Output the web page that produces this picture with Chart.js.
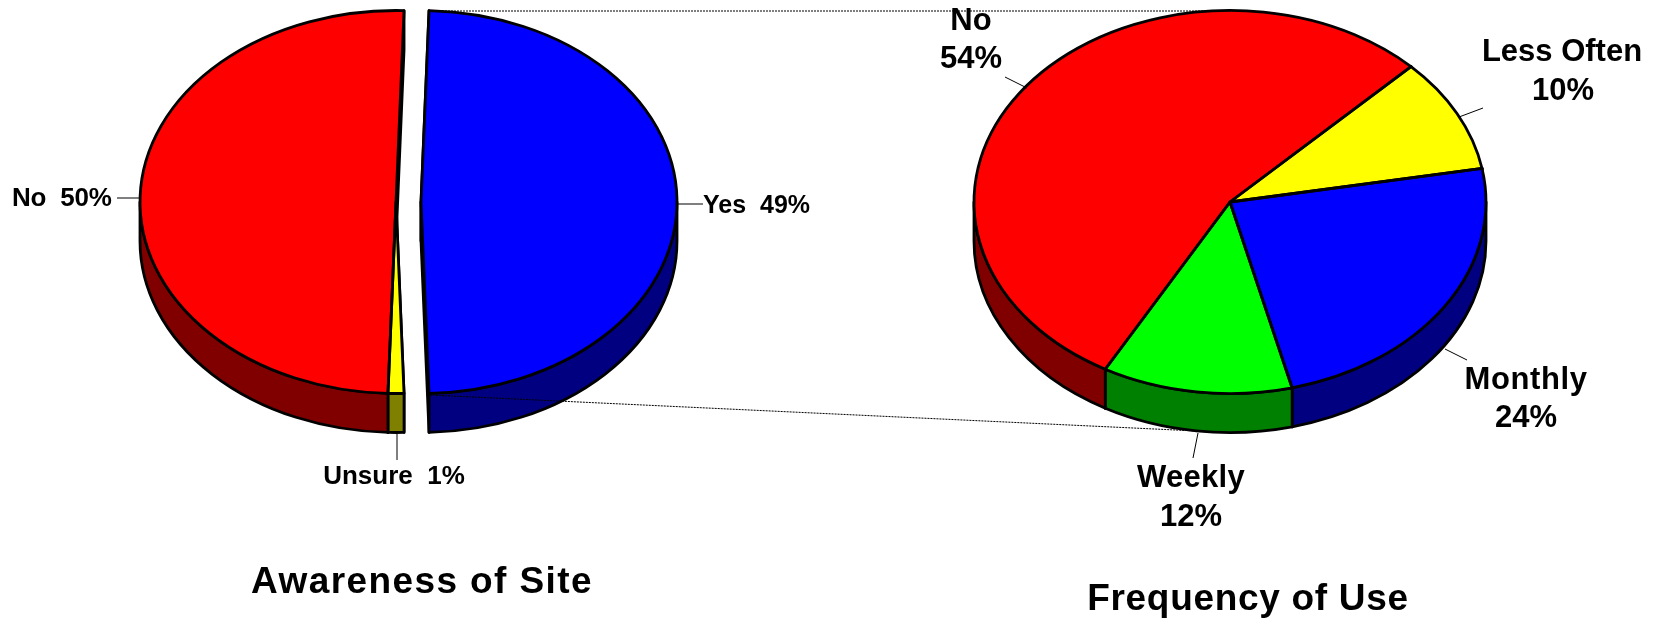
<!DOCTYPE html>
<html>
<head>
<meta charset="utf-8">
<style>
html,body{margin:0;padding:0;background:#fff;overflow:hidden;width:1661px;height:619px}
canvas{position:absolute;left:0;top:0}
</style>
<script src="https://cdn.jsdelivr.net/npm/chart.js@4/dist/chart.umd.min.js"></script>
</head>
<body>
<canvas id="left" width="1661" height="619"></canvas>
<canvas id="right" width="1661" height="619"></canvas>
<script>
const awarenessCategories = ['Yes', 'Unsure', 'No'];
const awarenessValues = [49, 1, 50];
const awarenessTops = ['#0000ff', '#ffff00', '#ff0000'];
const awarenessSides = ['#000080', '#808000', '#800000'];
const awarenessExplode = [25, 0, 0];

const frequencyCategories = ['Less Often', 'Monthly', 'Weekly', 'No'];
const frequencyValues = [9.7, 23.9, 12.0, 54.4];
const frequencyTops = ['#ffff00', '#0000ff', '#00ff00', '#ff0000'];
const frequencySides = ['#808000', '#000080', '#008000', '#800000'];
const frequencyExplode = [0, 0, 0, 0];

const FONT = '"Liberation Sans", Arial, sans-serif';
const W = 1661, H = 619;
const RADIUS = 256, SQUASH = 191.5 / 256, DEPTH = 39, CY = 202;

function text(ctx, str, x, y, size, spacing, align) {
  ctx.font = 'bold ' + size + 'px ' + FONT;
  ctx.letterSpacing = (spacing || 0) + 'px';
  ctx.textAlign = align || 'center';
  ctx.textBaseline = 'alphabetic';
  ctx.fillStyle = '#000';
  ctx.fillText(str, x, y);
  ctx.letterSpacing = '0px';
}
function seg(ctx, x1, y1, x2, y2, w) {
  ctx.beginPath(); ctx.moveTo(x1, y1); ctx.lineTo(x2, y2);
  ctx.lineWidth = w || 1; ctx.strokeStyle = '#000'; ctx.stroke();
}

const pie3d = {
  id: 'pie3d',
  afterDatasetUpdate(chart, args, opts) {
    chart.getDatasetMeta(args.index).data.forEach((el, i) => { el.x += opts.explode[i]; });
  },
  beforeDatasetsDraw(chart, args, opts) {
    const ctx = chart.ctx, arcs = chart.getDatasetMeta(0).data;
    ctx.lineJoin = 'round';
    ctx.lineWidth = 2.8; ctx.strokeStyle = '#000';
    const ell = (el, dy, a, b, ccw) => ctx.ellipse(el.x, el.y + dy, el.outerRadius, el.outerRadius * SQUASH, 0, a, b, ccw);
    const pt = (el, a) => [el.x + Math.cos(a) * el.outerRadius, el.y + Math.sin(a) * el.outerRadius * SQUASH];
    // radial cut faces
    arcs.forEach((el, i) => {
      ctx.fillStyle = opts.sides[i];
      [el.startAngle, el.endAngle].forEach(a => {
        const p = pt(el, a);
        ctx.beginPath();
        ctx.moveTo(el.x, el.y); ctx.lineTo(p[0], p[1]);
        ctx.lineTo(p[0], p[1] + DEPTH); ctx.lineTo(el.x, el.y + DEPTH);
        ctx.closePath(); ctx.fill(); ctx.stroke();
      });
    });
    // outer rim, front half only
    arcs.forEach((el, i) => {
      ctx.fillStyle = opts.sides[i];
      for (let k = -1; k <= 2; k++) {
        const a = Math.max(el.startAngle, 2 * Math.PI * k);
        const b = Math.min(el.endAngle, 2 * Math.PI * k + Math.PI);
        if (b <= a) continue;
        ctx.beginPath();
        ell(el, 0, a, b, false);
        ell(el, DEPTH, b, a, true);
        ctx.closePath(); ctx.fill(); ctx.stroke();
      }
    });
    ctx.save();
    const cy = arcs[0].y;
    ctx.translate(0, cy); ctx.scale(1, SQUASH); ctx.translate(0, -cy);
  },
  afterDatasetsDraw(chart, args, opts) {
    const ctx = chart.ctx, arcs = chart.getDatasetMeta(0).data;
    ctx.restore();
    ctx.lineJoin = 'round';
    ctx.lineWidth = 2.8; ctx.strokeStyle = '#000';
    arcs.forEach(el => {
      ctx.beginPath();
      ctx.moveTo(el.x, el.y);
      ctx.ellipse(el.x, el.y, el.outerRadius, el.outerRadius * SQUASH, 0, el.startAngle, el.endAngle);
      ctx.closePath(); ctx.stroke();
    });
    opts.annotate(ctx);
  }
};

function makePie(id, categories, values, tops, sides, explode, rotation, cx, annotate) {
  const pad = cx < W / 2 ? { right: W - 2 * cx } : { left: 2 * cx - W };
  pad.bottom = H - 2 * CY;
  return new Chart(document.getElementById(id), {
    type: 'pie',
    data: { labels: categories, datasets: [{ data: values, backgroundColor: tops, borderWidth: 0, radius: RADIUS, clip: false }] },
    options: {
      responsive: false, animation: false, rotation: rotation,
      layout: { padding: pad },
      events: [],
      plugins: { legend: { display: false }, tooltip: { enabled: false }, pie3d: { sides, explode, annotate } }
    },
    plugins: [pie3d]
  });
}

makePie('left', awarenessCategories, awarenessValues, awarenessTops, awarenessSides, awarenessExplode, 1.8, 396, ctx => {
  seg(ctx, 117, 198, 140, 198);
  seg(ctx, 678, 204, 703, 204);
  seg(ctx, 397, 434, 397, 460);
  text(ctx, 'No  50%', 12, 206, 26, -0.2, 'left');
  text(ctx, 'Yes  49%', 703, 213, 25, 0, 'left');
  text(ctx, 'Unsure  1%', 394, 484, 26, 0);
  text(ctx, 'Awareness of Site', 422, 593, 37, 1.4);
});
makePie('right', frequencyCategories, frequencyValues, frequencyTops, frequencySides, frequencyExplode, 45, 1230, ctx => {
  ctx.setLineDash([2, 1]);
  seg(ctx, 430, 11, 1230, 11, 1);
  seg(ctx, 430, 395, 1197, 431, 1);
  ctx.setLineDash([]);
  seg(ctx, 1005, 77, 1027, 88);
  seg(ctx, 1459, 117, 1483, 108);
  seg(ctx, 1445, 349, 1467, 360);
  seg(ctx, 1198, 433, 1193, 458);
  text(ctx, 'No', 971, 30, 31);
  text(ctx, '54%', 971, 68, 31);
  text(ctx, 'Less Often', 1562, 61, 31);
  text(ctx, '10%', 1563, 100, 31);
  text(ctx, 'Monthly', 1526, 389, 31, 0.6);
  text(ctx, '24%', 1526, 427, 31);
  text(ctx, 'Weekly', 1191, 487, 31, 0.3);
  text(ctx, '12%', 1191, 526, 31);
  text(ctx, 'Frequency of Use', 1248, 610, 37, 0.7);
});
</script>
</body>
</html>
